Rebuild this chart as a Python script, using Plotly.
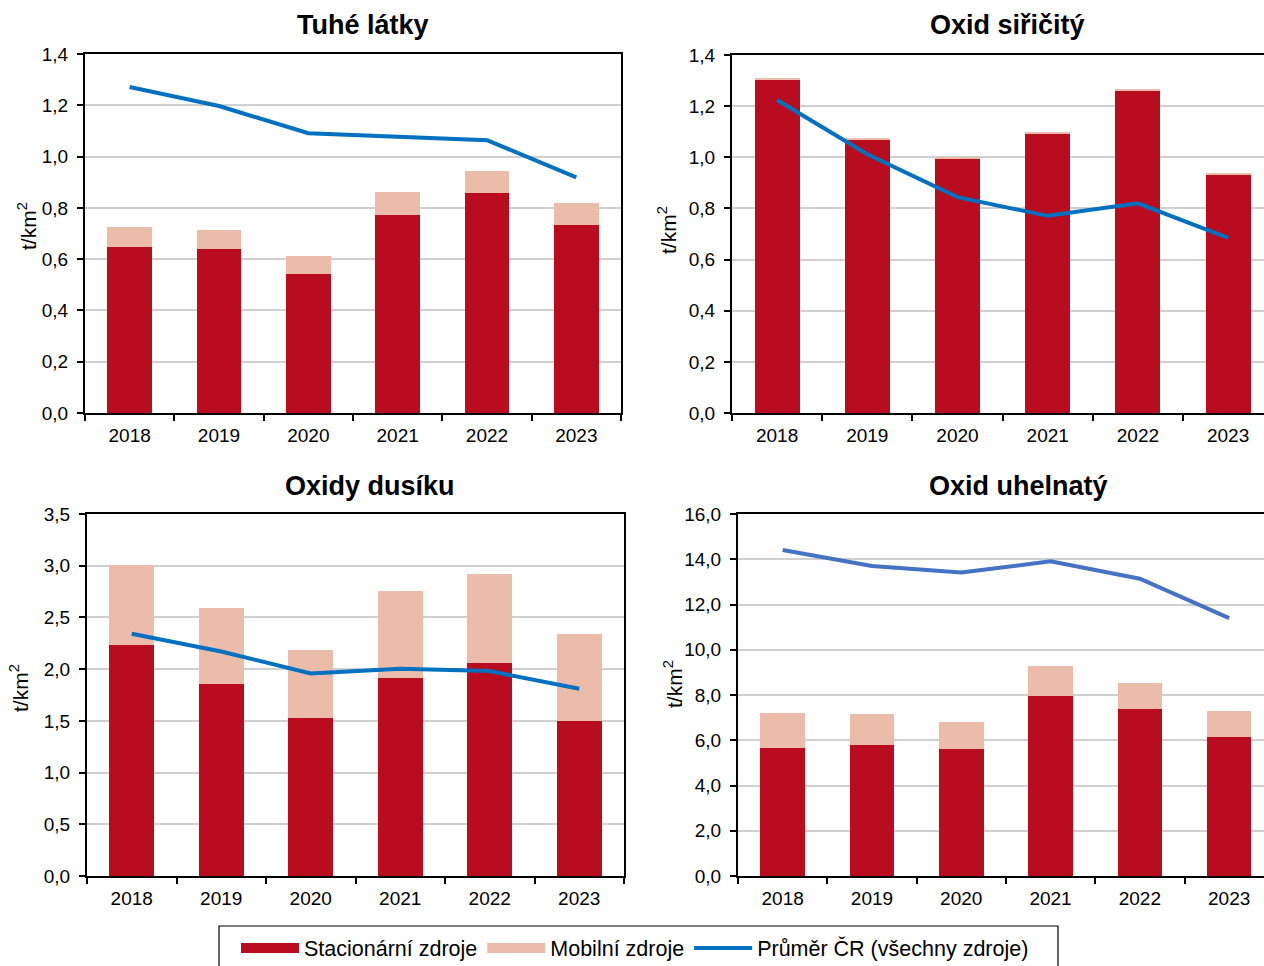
import plotly.graph_objects as go

years = ["2018", "2019", "2020", "2021", "2022", "2023"]

# Tuhé látky
tzl_stationary = [0.649, 0.640, 0.544, 0.774, 0.858, 0.734]
tzl_mobile = [0.076, 0.073, 0.069, 0.086, 0.084, 0.084]
tzl_cr_mean = [1.271, 1.197, 1.091, 1.078, 1.064, 0.919]

# Oxid siřičitý
so2_stationary = [1.304, 1.070, 0.996, 1.094, 1.262, 0.932]
so2_mobile = [0.004, 0.004, 0.004, 0.004, 0.004, 0.004]
so2_cr_mean = [1.224, 1.012, 0.844, 0.771, 0.820, 0.685]

# Oxidy dusíku
nox_stationary = [2.229, 1.861, 1.529, 1.919, 2.055, 1.503]
nox_mobile = [0.781, 0.733, 0.652, 0.833, 0.861, 0.839]
nox_cr_mean = [2.342, 2.171, 1.958, 2.003, 1.981, 1.810]

# Oxid uhelnatý
co_stationary = [5.65, 5.80, 5.62, 7.96, 7.39, 6.15]
co_mobile = [1.56, 1.35, 1.18, 1.32, 1.15, 1.15]
co_cr_mean = [14.41, 13.70, 13.41, 13.91, 13.14, 11.40]

titles = ["Tuhé látky", "Oxid siřičitý", "Oxidy dusíku", "Oxid uhelnatý"]
y_title = "t/km<sup>2</sup>"
legend_names = ["Stacionární zdroje", "Mobilní zdroje", "Průměr ČR (všechny zdroje)"]

RED = "#BA0C1F"
PEACH = "#EBBCAA"
BLUE = "#0070C0"
BLUE2 = "#4472C4"
FONT = "Liberation Sans, Arial, sans-serif"

W, H = 1264, 966

def px_x(p):
    return p / W

def px_y(p):
    return 1 - p / H

panels = [
    dict(st=tzl_stationary, mo=tzl_mobile, ln=tzl_cr_mean, lc=BLUE,
         dom_x=[px_x(85), px_x(621)], dom_y=[px_y(413), px_y(54)],
         yr=[0, 1.4], dt=0.2, xr=[-0.5, 5.5], mirror=True,
         tx=363, ty=25, yx=27, yy=226),
    dict(st=so2_stationary, mo=so2_mobile, ln=so2_cr_mean, lc=BLUE,
         dom_x=[px_x(732), 1.0], dom_y=[px_y(413), px_y(55)],
         yr=[0, 1.4], dt=0.2, xr=[-0.5, -0.5 + (W - 732) / 90.2], mirror=False,
         tx=1007, ty=25, yx=667, yy=230),
    dict(st=nox_stationary, mo=nox_mobile, ln=nox_cr_mean, lc=BLUE,
         dom_x=[px_x(87), px_x(624)], dom_y=[px_y(876), px_y(514)],
         yr=[0, 3.5], dt=0.5, xr=[-0.5, 5.5], mirror=True,
         tx=370, ty=486, yx=19, yy=688),
    dict(st=co_stationary, mo=co_mobile, ln=co_cr_mean, lc=BLUE2,
         dom_x=[px_x(738), 1.0], dom_y=[px_y(876), px_y(514)],
         yr=[0, 16], dt=2, xr=[-0.5, -0.5 + (W - 738) / 89.3], mirror=False,
         tx=1018, ty=486, yx=673, yy=684),
]

fig = go.Figure()
annotations = []

for i, p in enumerate(panels, start=1):
    xa = "x" if i == 1 else f"x{i}"
    ya = "y" if i == 1 else f"y{i}"
    fig.add_trace(go.Bar(x=years, y=p["st"], marker=dict(color=RED, line=dict(width=0)),
                         width=0.5, xaxis=xa, yaxis=ya, showlegend=False,
                         name=legend_names[0]))
    fig.add_trace(go.Bar(x=years, y=p["mo"], marker=dict(color=PEACH, line=dict(width=0)),
                         width=0.5, xaxis=xa, yaxis=ya, showlegend=False,
                         name=legend_names[1]))
    fig.add_trace(go.Scatter(x=years, y=p["ln"], mode="lines",
                             line=dict(color=p["lc"], width=4),
                             xaxis=xa, yaxis=ya, showlegend=False,
                             name=legend_names[2]))
    xkey = "xaxis" if i == 1 else f"xaxis{i}"
    ykey = "yaxis" if i == 1 else f"yaxis{i}"
    fig.update_layout(**{
        xkey: dict(domain=p["dom_x"], anchor=ya, type="category", range=p["xr"],
                   showline=True, linecolor="black", linewidth=2, mirror=True,
                   ticks="outside", tickson="boundaries", ticklen=6, tickwidth=1.5,
                   tickcolor="black", showgrid=False, zeroline=False, automargin=False,
                   showspikes=False, ticklabelstandoff=4,
                   tickfont=dict(family=FONT, size=19, color="black")),
        ykey: dict(domain=p["dom_y"], anchor=xa, range=p["yr"], dtick=p["dt"],
                   tick0=0, tickformat=".1f", automargin=False,
                   showline=True, linecolor="black", linewidth=2, mirror=p["mirror"],
                   ticks="outside", ticklen=6, tickwidth=1.5, tickcolor="black",
                   showgrid=True, gridcolor="#D0D0D0", gridwidth=1.5,
                   zeroline=False, showspikes=False, ticklabelstandoff=5,
                   tickfont=dict(family=FONT, size=19, color="black")),
    })
    annotations.append(dict(text=f"<b>{titles[i-1]}</b>", x=px_x(p["tx"]), y=px_y(p["ty"]),
                            xref="paper", yref="paper", xanchor="center", yanchor="middle",
                            showarrow=False,
                            font=dict(family=FONT, size=27, color="black")))
    annotations.append(dict(text=y_title, x=px_x(p["yx"]), y=px_y(p["yy"]),
                            xref="paper", yref="paper", xanchor="center", yanchor="middle",
                            textangle=-90, showarrow=False,
                            font=dict(family=FONT, size=21, color="black")))

# legend proxies
fig.add_trace(go.Scatter(x=[None], y=[None], mode="lines", name=legend_names[0],
                         line=dict(color=RED, width=12)))
fig.add_trace(go.Scatter(x=[None], y=[None], mode="lines", name=legend_names[1],
                         line=dict(color=PEACH, width=12)))
fig.add_trace(go.Scatter(x=[None], y=[None], mode="lines", name=legend_names[2],
                         line=dict(color=BLUE, width=4)))

# legend frame
shapes = [dict(type="rect", xref="paper", yref="paper",
               x0=px_x(219), x1=px_x(1058), y0=px_y(990), y1=px_y(926),
               line=dict(color="black", width=1.2), fillcolor="rgba(0,0,0,0)")]

fig.update_layout(
    width=W, height=H, autosize=False,
    margin=dict(l=0, r=0, t=0, b=0, pad=0, autoexpand=False),
    paper_bgcolor="white", plot_bgcolor="white",
    barmode="stack", separators=", ", hovermode=False,
    annotations=annotations, shapes=shapes,
    legend=dict(orientation="h", x=px_x(236), y=px_y(948), xanchor="left", yanchor="middle",
                borderwidth=0, itemwidth=58, traceorder="normal",
                bgcolor="rgba(0,0,0,0)",
                font=dict(family=FONT, size=21.5, color="black"),
                tracegroupgap=0, itemclick=False),
)

fig.write_html(
    "out.html",
    config={"displayModeBar": False},
    post_script="document.body.style.margin='0px';document.body.style.overflow='hidden';",
)
